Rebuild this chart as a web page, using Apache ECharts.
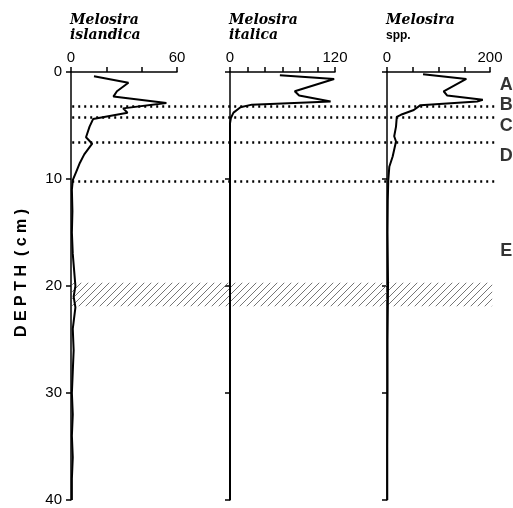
<!DOCTYPE html>
<html>
<head>
<meta charset="utf-8">
<script src="https://cdn.jsdelivr.net/npm/echarts@6/dist/echarts.min.js"></script>
<style>
  html, body { margin: 0; padding: 0; background: #fff; }
  #chart-container { width: 513px; height: 508px; }
</style>
</head>
<body>
<div id="chart-container"></div>
<script>
// --- Data (depth in cm, abundance) ---
const islandicaDepth = [0.4, 1.0, 1.8, 2.3, 2.9, 3.4, 3.8, 4.4, 5.1, 6.1, 6.7, 7.7, 8.5, 9.3, 10.1, 11, 13, 15, 17, 19, 20, 21, 22, 24, 26, 28, 30, 32, 34, 36, 38, 40];
const islandicaValue = [13, 32.5, 26, 24, 54, 29.5, 32, 12.5, 10.5, 8.5, 12, 7.5, 5, 3, 1, 0.5, 0.8, 0.5, 1, 2, 2.5, 1.5, 2.5, 1, 1.5, 1, 0.5, 1, 0.5, 1, 0.5, 0.5];

const italicaDepth = [0.3, 0.65, 1.8, 2.2, 2.75, 3.05, 3.3, 3.8, 4.3, 4.8, 40];
const italicaValue = [57, 119, 74, 79, 115, 25, 12, 4, 1, 0, 0];

const sppDepth = [0.2, 0.65, 1.8, 2.2, 2.6, 2.75, 3.1, 3.55, 4.0, 4.2, 5.1, 6.0, 6.5, 7.9, 8.85, 10.1, 12, 15, 20, 25, 30, 35, 40];
const sppValue = [70, 154, 110, 117, 186, 175, 65, 52, 27, 19, 17.5, 14, 17.5, 11, 4.5, 2.5, 1.5, 1, 2, 1, 1, 0.5, 0.5];

// zone boundaries (dotted lines) and zone letters
const boundaryDepth = [3.2, 4.25, 6.6, 10.2];
const zoneNames = ['A', 'B', 'C', 'D', 'E'];
const zoneDepth = [1.2, 3.1, 5.05, 7.9, 16.7];

// hatched band (depth range)
const bandDepth = [19.7, 21.9];

(function () {
  const chartDom = document.getElementById('chart-container');
  const myChart = echarts.init(chartDom, null, { renderer: 'canvas' });

  const numFont = 'Liberation Sans';
  const titleFont = 'DejaVu Serif';

  // Panels: one grid per taxon
  const panels = [
    { title: '{i|Melosira}\n{i|islandica}', max: 60, interval: 20, left: 71, width: 106, depth: islandicaDepth, value: islandicaValue },
    { title: '{i|Melosira}\n{i|italica}', max: 120, interval: 20, left: 230, width: 105, depth: italicaDepth, value: italicaValue },
    { title: '{i|Melosira}\n{n|spp.}', max: 200, interval: 50, left: 387, width: 103, depth: sppDepth, value: sppValue }
  ];

  // Hatch pattern for the band
  const hatch = document.createElement('canvas');
  hatch.width = 7;
  hatch.height = 7;
  const hctx = hatch.getContext('2d');
  hctx.strokeStyle = '#666';
  hctx.lineWidth = 0.9;
  hctx.beginPath();
  hctx.moveTo(0, 7); hctx.lineTo(7, 0);
  hctx.moveTo(-1, 1); hctx.lineTo(1, -1);
  hctx.moveTo(6, 8); hctx.lineTo(8, 6);
  hctx.stroke();

  const grid = [];
  const xAxis = [];
  const yAxis = [];
  const series = [];
  const title = [];

  panels.forEach(function (p, i) {
    grid.push({ left: p.left, top: 72, width: p.width, height: 428 });
    xAxis.push({
      gridIndex: i, type: 'value', position: 'top', min: 0, max: p.max, interval: p.interval,
      axisLine: { show: true, onZero: false, lineStyle: { color: '#000', width: 1.5 } },
      axisTick: { show: true, length: 5, lineStyle: { color: '#000', width: 1.5 } },
      axisLabel: {
        color: '#000', fontFamily: numFont, fontSize: 15, margin: 7,
        formatter: function (v) { return (v === 0 || v === p.max) ? String(v) : ''; }
      },
      splitLine: { show: false }
    });
    yAxis.push({
      gridIndex: i, type: 'value', inverse: true, min: 0, max: 40, interval: 10,
      axisLine: { show: true, onZero: false, lineStyle: { color: '#000', width: 1.5 } },
      axisTick: { show: true, length: 5, lineStyle: { color: '#000', width: 1.5 } },
      axisLabel: { show: i === 0, color: '#000', fontFamily: numFont, fontSize: 15, margin: 9 },
      splitLine: { show: false }
    });
    series.push({
      type: 'line', xAxisIndex: i, yAxisIndex: i, z: 5,
      showSymbol: false, symbol: 'none', silent: true,
      lineStyle: { color: '#000', width: 2 },
      data: p.depth.map(function (d, k) { return [p.value[k], d]; })
    });
    title.push({
      text: p.title, left: p.left - 1, top: 13, padding: 0,
      textStyle: {
        rich: {
          i: { fontFamily: titleFont, fontStyle: 'italic', fontWeight: 'bold', fontSize: 14, lineHeight: 15, color: '#000' },
          n: { fontFamily: numFont, fontWeight: 'bold', fontSize: 12, lineHeight: 15, color: '#000' }
        }
      }
    });
  });

  // Overlay grid for zone lines, hatched band and zone letters
  grid.push({ left: 70, top: 72, width: 443, height: 428 });
  xAxis.push({ gridIndex: 3, type: 'value', min: 0, max: 1, show: false });
  yAxis.push({ gridIndex: 3, type: 'value', inverse: true, min: 0, max: 40, show: false });

  series.push({
    type: 'line', xAxisIndex: 3, yAxisIndex: 3, z: 1, silent: true, data: [],
    markLine: {
      silent: true, symbol: 'none', animation: false,
      label: { show: false },
      lineStyle: { color: '#000', width: 2.5, type: [2, 4] },
      data: boundaryDepth.map(function (d) { return [{ coord: [0.005, d] }, { coord: [0.96, d] }]; })
    },
    markArea: {
      silent: true,
      itemStyle: { color: { image: hatch, repeat: 'repeat' } },
      data: [[{ coord: [0.005, bandDepth[0]] }, { coord: [0.953, bandDepth[1]] }]]
    }
  });

  series.push({
    type: 'scatter', xAxisIndex: 3, yAxisIndex: 3, z: 2, silent: true,
    symbolSize: 1, itemStyle: { color: 'transparent' },
    label: {
      show: true, position: 'inside', color: '#000',
      fontFamily: numFont, fontWeight: 'bold', fontSize: 18,
      formatter: function (params) { return params.data[2]; }
    },
    data: zoneNames.map(function (n, k) { return [0.985, zoneDepth[k], n]; })
  });

  const chartOption = {
    animation: false,
    backgroundColor: '#fff',
    title: title,
    grid: grid,
    xAxis: xAxis,
    yAxis: yAxis,
    series: series,
    graphic: [{
      type: 'text', x: 22, y: 273, rotation: Math.PI / 2,
      style: {
        text: 'D E P T H  ( c m )', fill: '#000',
        font: 'bold 16px "Liberation Sans"',
        textAlign: 'center', textVerticalAlign: 'middle'
      }
    }]
  };

  myChart.setOption(chartOption);
}());
</script>
</body>
</html>
